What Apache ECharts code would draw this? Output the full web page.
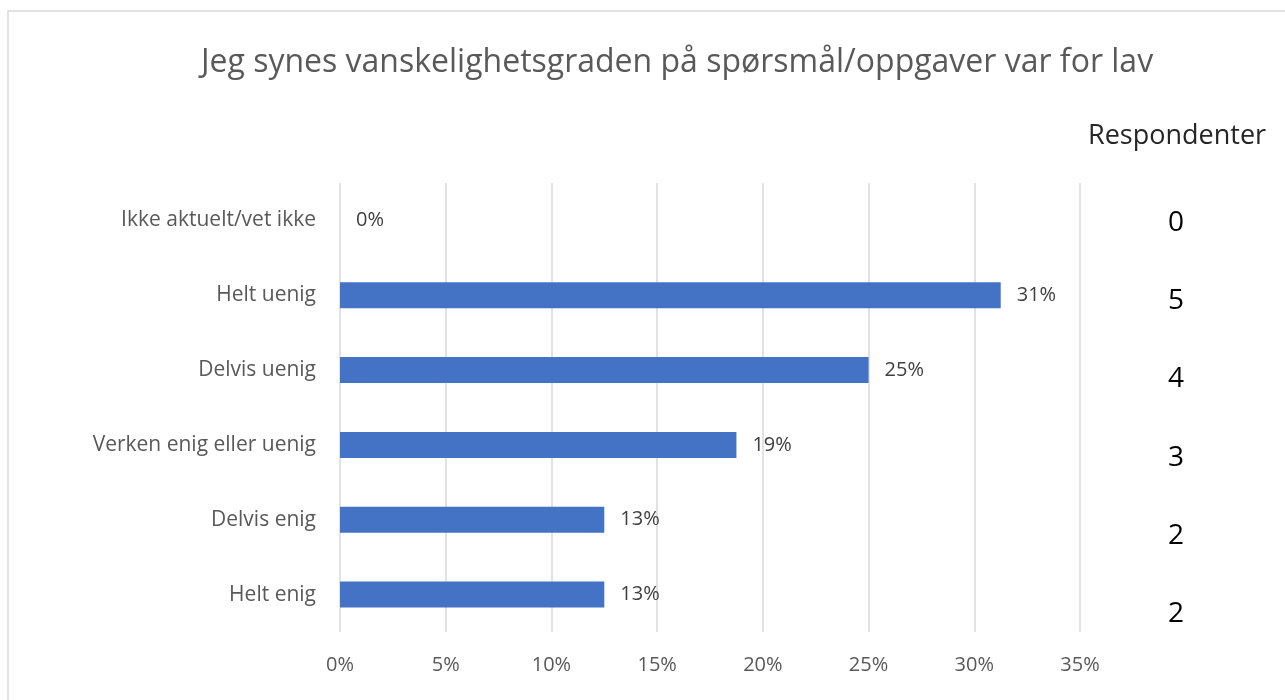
<!DOCTYPE html>
<html>
<head>
<meta charset="utf-8">
<script src="https://cdn.jsdelivr.net/npm/echarts@6/dist/echarts.min.js"></script>
<style>
  html, body { margin: 0; padding: 0; background: #fff; }
  #chart { width: 1285px; height: 700px; }
</style>
</head>
<body>
<div id="chart"></div>
<script>
// svar, ovenfra og ned
var categories = ['Ikke aktuelt/vet ikke', 'Helt uenig', 'Delvis uenig', 'Verken enig eller uenig', 'Delvis enig', 'Helt enig'];
var percents = [0, 31.25, 25, 18.75, 12.5, 12.5];
var respondents = ['0', '5', '4', '3', '2', '2'];
var xTicks = [0, 5, 10, 15, 20, 25, 30, 35];

var FONT = '"Open Sans", sans-serif';

var myChart = echarts.init(document.getElementById('chart'));

var option = {
    animation: false,
    textStyle: { fontFamily: FONT },
    title: {
        text: 'Jeg synes vanskelighetsgraden på spørsmål/oppgaver var for lav',
        left: 672,
        top: 42,
        textAlign: 'center',
        textStyle: { fontSize: 32, fontWeight: 'normal', color: '#595959', fontFamily: FONT }
    },
    graphic: [
        {
            type: 'rect',
            shape: { x: 8, y: 11, width: 1290, height: 700 },
            style: { fill: 'none', stroke: '#d9d9d9', lineWidth: 1.5 },
            silent: true
        },
        {
            type: 'text',
            left: 1088,
            top: 123,
            style: { text: 'Respondenter', fontSize: 27, fill: '#262626', fontFamily: FONT }
        }
    ],
    grid: [
        { left: 340, top: 183, width: 740, height: 449 },
        { left: 1176, top: 184, width: 1, height: 469 }
    ],
    xAxis: [
        {
            gridIndex: 0,
            type: 'value',
            min: xTicks[0],
            max: xTicks[xTicks.length - 1],
            interval: 5,
            axisLine: { show: false },
            axisTick: { show: false },
            splitLine: { lineStyle: { color: '#d9d9d9', width: 1.5 } },
            axisLabel: { formatter: '{value}%', fontSize: 20, color: '#595959', margin: 23 }
        },
        { gridIndex: 1, type: 'value', show: false }
    ],
    yAxis: [
        {
            gridIndex: 0,
            type: 'category',
            data: categories,
            inverse: true,
            axisLine: { show: false },
            axisTick: { show: false },
            axisLabel: { fontSize: 21, color: '#595959', margin: 24 }
        },
        {
            gridIndex: 1,
            type: 'category',
            data: respondents,
            inverse: true,
            axisLine: { show: false },
            axisTick: { show: false },
            axisLabel: { fontSize: 28, color: '#000', margin: 0, align: 'center' }
        }
    ],
    series: [
        {
            type: 'bar',
            xAxisIndex: 0,
            yAxisIndex: 0,
            data: percents,
            barWidth: 26,
            itemStyle: { color: '#4472c4' },
            label: {
                show: true,
                position: 'right',
                distance: 16,
                fontSize: 20,
                color: '#404040',
                formatter: function (p) { return Math.round(p.value) + '%'; }
            }
        }
    ]
};

myChart.setOption(option);
</script>
</body>
</html>
